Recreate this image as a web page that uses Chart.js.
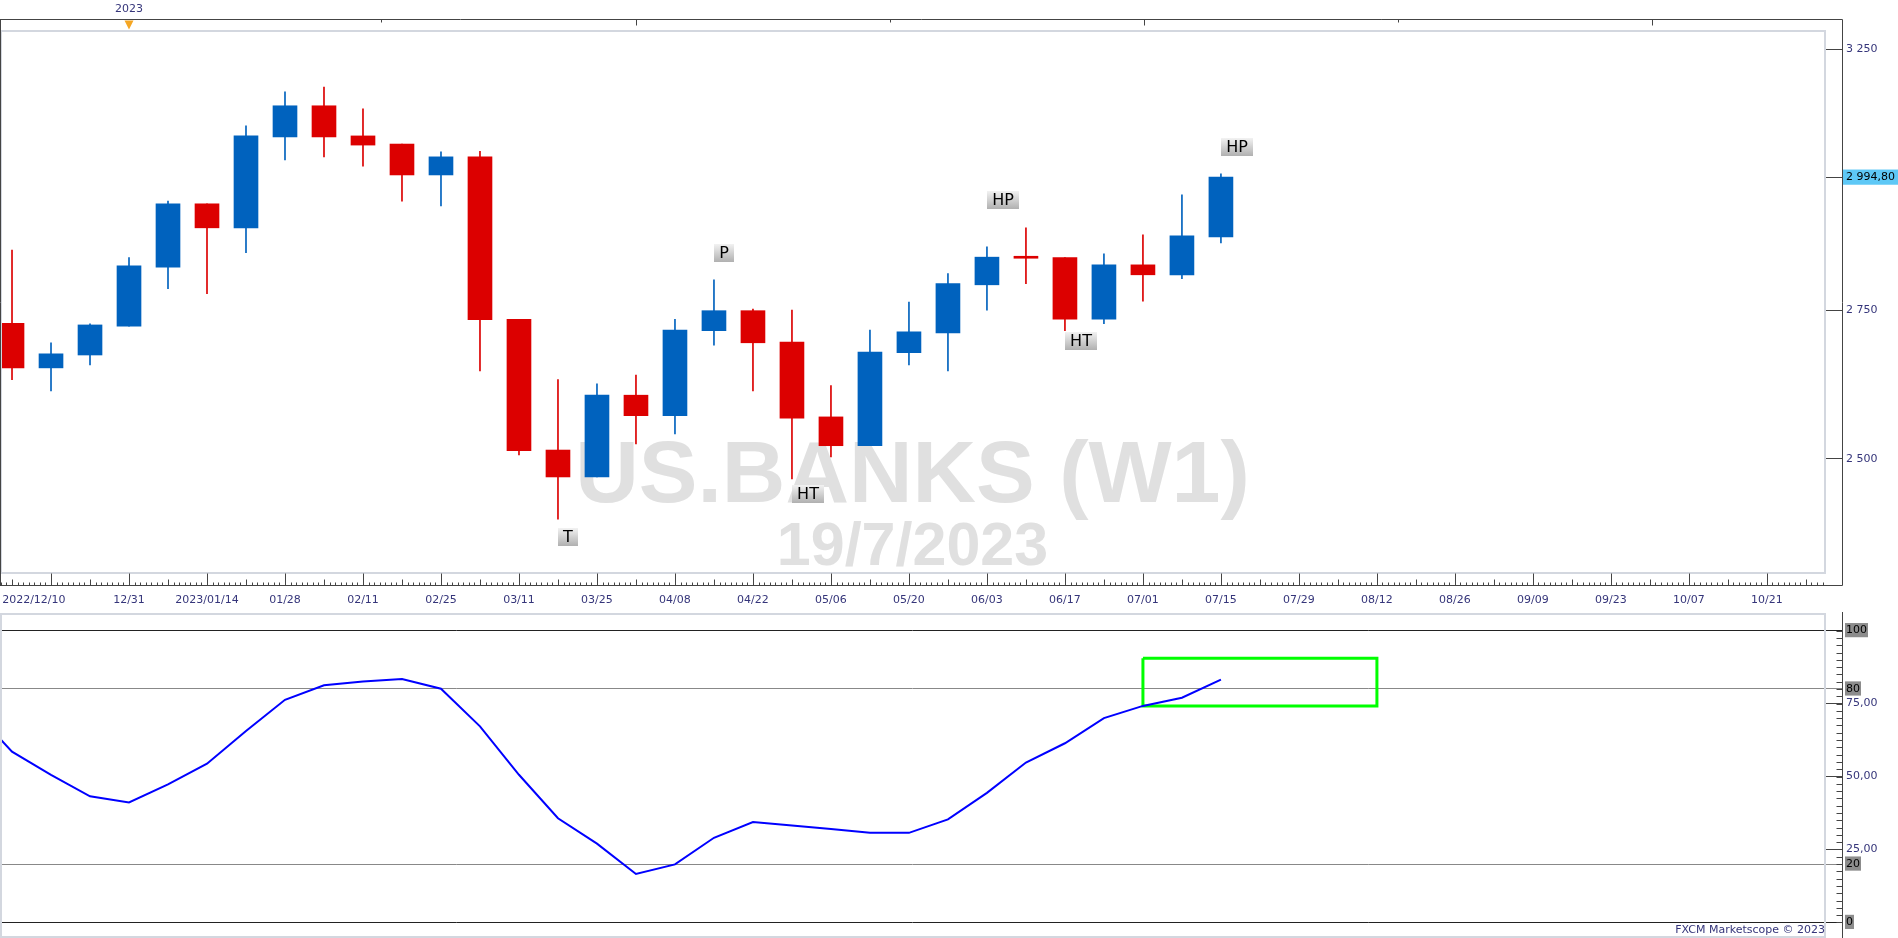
<!DOCTYPE html>
<html>
<head>
<meta charset="utf-8">
<script src="https://cdn.jsdelivr.net/npm/chart.js@4.4.0/dist/chart.umd.min.js"></script>
<style>
  body { margin: 0; background: #fff; width: 1898px; height: 938px; overflow: hidden; position: relative; }
  #pricebox { position: absolute; left: 0; top: 0; width: 1898px; height: 612px; }
  #oscbox { position: absolute; left: 0; top: 612px; width: 1898px; height: 326px; }
  #credit { position: absolute; right: 73px; top: 923px; font: 11px 'DejaVu Sans', sans-serif; line-height: 13px; color: #35357a; }
</style>
</head>
<body>
<div id="pricebox"><canvas id="price"></canvas></div>
<div id="oscbox"><canvas id="osc"></canvas></div>
<div id="credit">FXCM Marketscope © 2023</div>
<script>
// week 0 = 2022/12/03, one step per week. candles start on week 1 (2022/12/10)
var open  = [2727, 2650, 2672, 2722, 2827, 2944, 2899, 3073, 3135, 3075, 3059, 2999, 3034, 2734, 2514, 2471,
             2604, 2570, 2714, 2749, 2694, 2568, 2521, 2676, 2710, 2795, 2846, 2844, 2734, 2831, 2813, 2882];
var high  = [2858, 2693, 2726, 2844, 2949, 2944, 3095, 3163, 3173, 3129, 3059, 3044, 3045, 2734, 2630, 2623,
             2638, 2734, 2804, 2752, 2750, 2620, 2715, 2764, 2815, 2864, 2899, 2844, 2851, 2886, 2961, 3001];
var low   = [2630, 2611, 2655, 2722, 2788, 2779, 2853, 3028, 3034, 3016, 2949, 2940, 2645, 2506, 2405, 2471,
             2524, 2540, 2689, 2611, 2468, 2503, 2521, 2655, 2645, 2750, 2797, 2714, 2726, 2766, 2806, 2871];
var close = [2650, 2674, 2724, 2829, 2944, 2899, 3075, 3135, 3073, 3057, 2999, 3034, 2733, 2513, 2471, 2604,
             2570, 2715, 2749, 2693, 2566, 2521, 2677, 2712, 2797, 2845, 2843, 2734, 2831, 2813, 2884, 2994.80];
var lastPrice = 2994.80;

// oscillator, from week 0
var osc = [73, 58.5, 50.6, 43.2, 41.1, 47.3, 54.4, 65.6, 76.3, 81.3, 82.6, 83.4, 80.1, 67.2, 50.6, 35.7, 27.0,
           16.6, 19.9, 29.0, 34.4, 33.2, 32.0, 30.7, 30.7, 35.3, 44.4, 54.8, 61.4, 70.0, 74.2, 77.0, 83.2];

var xLabels = ['2022/12/10', '12/31', '2023/01/14', '01/28', '02/11', '02/25', '03/11', '03/25', '04/08', '04/22',
               '05/06', '05/20', '06/03', '06/17', '07/01', '07/15', '07/29', '08/12', '08/26', '09/09', '09/23',
               '10/07', '10/21'];
// first label is pushed inside the pane like marketscope does
var xLabelWeeks = [1.56, 4, 6, 8, 10, 12, 14, 16, 18, 20, 22, 24, 26, 28, 30, 32, 34, 36, 38, 40, 42, 44, 46];
var yearWeek = 4;
var topTickWeeks = [10.46, 17, 23.51, 30.03, 36.54, 43.05];

var priceTicks = [2500, 2750, 3250];
var oscLevels = [0, 20, 80, 100];
var oscTicks = [25, 50, 75];

// pivot labels: week, text, price at the box edge, below/above
var marks = [
  { w: 15, t: 'T',  p: 2392, below: true },
  { w: 19, t: 'P',  p: 2836, below: false },
  { w: 21, t: 'HT', p: 2458, below: true },
  { w: 26, t: 'HP', p: 2934, below: false },
  { w: 28, t: 'HT', p: 2711, below: true },
  { w: 32, t: 'HP', p: 3036, below: false }
];
// green box on the oscillator: weeks from/to, value from/to
var boxWeeks = [30, 36];
var boxVals = [74.2, 90.5];

var xMin = 0.692, xMax = 47.49;
var red = '#dc0000', blue = '#0062be', navy = '#35357a';
Chart.defaults.font.family = "'DejaVu Sans', sans-serif";
Chart.defaults.font.size = 11;

function fmt(v, dec) {
  var s = v.toFixed(dec).split('.');
  var n = s[0].replace(/\B(?=(\d{3})+(?!\d))/g, ' ');
  return dec ? n + ',' + s[1] : n;
}
// no automatic padding: the plot has to fill the pane edge to edge
function noPad(s) {
  s.paddingLeft = 0; s.paddingRight = 0; s.paddingTop = 0; s.paddingBottom = 0;
}

var bodies = open.map(function (o, i) { return { x: i + 1, y: [o, close[i]] }; });
var wicks = low.map(function (l, i) { return { x: i + 1, y: [l, high[i]] }; });
var colors = open.map(function (o, i) { return close[i] >= o ? blue : red; });

var watermark = {
  id: 'watermark',
  beforeDatasetsDraw: function (chart) {
    var a = chart.chartArea, c = chart.ctx;
    var cx = (a.left + a.right) / 2;
    c.save();
    c.fillStyle = '#e0e0e0';
    c.textAlign = 'center';
    c.font = "bold 88px 'Liberation Sans', Arial, sans-serif";
    c.fillText('US.BANKS (W1)', cx, a.bottom - 71);
    c.font = "bold 61px 'Liberation Sans', Arial, sans-serif";
    c.fillText('19/7/2023', cx, a.bottom - 8);
    c.restore();
  }
};

var markLabels = {
  id: 'markLabels',
  afterDatasetsDraw: function (chart) {
    var c = chart.ctx, xs = chart.scales.x, ys = chart.scales.y;
    c.save();
    c.font = "16px 'DejaVu Sans', sans-serif";
    marks.forEach(function (m) {
      var x = Math.round(xs.getPixelForValue(m.w));
      var y = Math.round(ys.getPixelForValue(m.p));
      var w = Math.round(c.measureText(m.t).width) + 10, h = 18;
      var top = m.below ? y : y - h;
      var g = c.createLinearGradient(0, top, 0, top + h);
      g.addColorStop(0, '#f2f2f2');
      g.addColorStop(1, '#b0b0b0');
      c.fillStyle = g;
      c.fillRect(x, top, w, h);
      c.fillStyle = '#000';
      c.textAlign = 'center';
      c.textBaseline = 'middle';
      c.fillText(m.t, x + w / 2, top + h / 2 + 1);
    });
    c.restore();
  }
};

var priceFrame = {
  id: 'priceFrame',
  afterDraw: function (chart) {
    var a = chart.chartArea, c = chart.ctx, xs = chart.scales.x;
    var axisX = a.right + 17.5, topY = 19.5, baseY = a.bottom + 12.5;
    c.save();
    // inner box
    c.strokeStyle = '#d3d7df';
    c.lineWidth = 2;
    c.strokeRect(a.left + 1, a.top, a.right - a.left - 1, a.bottom - a.top);
    // outer frame and axis line
    c.strokeStyle = '#444';
    c.lineWidth = 1;
    c.beginPath();
    c.moveTo(0, topY); c.lineTo(axisX, topY);
    c.moveTo(0.5, topY); c.lineTo(0.5, baseY);
    c.moveTo(axisX, topY); c.lineTo(axisX, baseY);
    c.moveTo(0, baseY); c.lineTo(axisX, baseY);
    // ruler: a tick every day, longer on weeks, longest every two weeks
    for (var d = Math.ceil(xMin * 7); d <= xMax * 7; d++) {
      var x = Math.round(xs.getPixelForValue(d / 7)) + 0.5;
      var len = 3;
      if (d % 7 === 0) len = (d / 7) % 2 === 0 ? 12 : 6;
      c.moveTo(x, baseY); c.lineTo(x, baseY - len);
    }
    topTickWeeks.forEach(function (w, k) {
      var x = Math.round(xs.getPixelForValue(w)) + 0.5;
      c.moveTo(x, topY); c.lineTo(x, topY + (k % 2 ? 6 : 3));
    });
    c.stroke();
    // year marker
    var yx = xs.getPixelForValue(yearWeek);
    c.fillStyle = '#f5a623';
    c.beginPath();
    c.moveTo(yx - 4.5, topY + 1); c.lineTo(yx + 4.5, topY + 1); c.lineTo(yx, topY + 10);
    c.closePath();
    c.fill();
    c.restore();
  }
};

new Chart(document.getElementById('price'), {
  type: 'bar',
  data: {
    datasets: [
      { data: bodies, backgroundColor: colors, barThickness: 24, minBarLength: 2, grouped: false, borderWidth: 0, order: 0 },
      { data: wicks, backgroundColor: colors, barThickness: 1, grouped: false, borderWidth: 0, order: 1 }
    ]
  },
  options: {
    animation: false,
    events: [],
    responsive: true,
    maintainAspectRatio: false,
    layout: { padding: 0 },
    plugins: { legend: { display: false }, tooltip: { enabled: false } },
    scales: {
      x: {
        type: 'linear', min: xMin, max: xMax, offset: false,
        afterBuildTicks: function (s) { s.ticks = xLabelWeeks.map(function (v) { return { value: v }; }); },
        afterFit: function (s) { s.height = 39; noPad(s); },
        grid: { display: false },
        border: { display: false },
        ticks: {
          autoSkip: false, maxRotation: 0, padding: 13, color: navy,
          callback: function (v, i) { return xLabels[i]; }
        }
      },
      top: {
        type: 'linear', position: 'top', min: xMin, max: xMax, offset: false,
        afterBuildTicks: function (s) { s.ticks = [{ value: yearWeek }]; },
        afterFit: function (s) { s.height = 31; noPad(s); },
        grid: { display: false },
        border: { display: false },
        ticks: { autoSkip: false, maxRotation: 0, padding: 7, color: navy, callback: function () { return '2023'; } }
      },
      y: {
        type: 'logarithmic', position: 'right', min: 2323.4, max: 3289,
        afterBuildTicks: function (s) {
          s.ticks = priceTicks.concat([lastPrice]).map(function (v) { return { value: v }; });
        },
        afterFit: function (s) { s.width = 73; noPad(s); },
        grid: { drawOnChartArea: false, drawTicks: true, tickLength: 17, tickColor: '#444' },
        border: { display: false },
        ticks: {
          autoSkip: false, padding: 4,
          color: function (ctx) { return ctx.tick.value === lastPrice ? '#000' : navy; },
          showLabelBackdrop: function (ctx) { return ctx.tick.value === lastPrice; },
          backdropColor: '#5ec8f6',
          backdropPadding: { left: 3, right: 6, top: 1, bottom: 1 },
          callback: function (v) { return v === lastPrice ? fmt(v, 2) : fmt(v, 0); }
        }
      }
    }
  },
  plugins: [watermark, markLabels, priceFrame]
});

var oscFrame = {
  id: 'oscFrame',
  afterDraw: function (chart) {
    var a = chart.chartArea, c = chart.ctx, ys = chart.scales.y;
    var axisX = a.right + 17.5;
    c.save();
    c.strokeStyle = '#d3d7df';
    c.lineWidth = 2;
    c.strokeRect(a.left + 1, a.top, a.right - a.left - 1, a.bottom - a.top);
    c.strokeStyle = '#444';
    c.lineWidth = 1;
    c.beginPath();
    c.moveTo(axisX, 0); c.lineTo(axisX, chart.height);
    for (var v = 0; v <= 100; v += 2.5) {
      var y = Math.round(ys.getPixelForValue(v)) + 0.5;
      c.moveTo(axisX - 6, y); c.lineTo(axisX, y);
    }
    c.stroke();
    c.restore();
  }
};

function oscColor(v, minor) {
  if (v === 0 || v === 100) return '#222';
  if (v === 20 || v === 80) return '#888';
  if (minor && oscTicks.indexOf(v) >= 0) return '#444';
  return 'rgba(0,0,0,0)';
}

new Chart(document.getElementById('osc'), {
  type: 'line',
  data: {
    datasets: [
      {
        data: osc.map(function (v, i) { return { x: i, y: v }; }),
        borderColor: '#0000ff', borderWidth: 2, pointRadius: 0, tension: 0
      },
      {
        data: [
          { x: boxWeeks[0], y: boxVals[1] }, { x: boxWeeks[1], y: boxVals[1] },
          { x: boxWeeks[1], y: boxVals[0] }, { x: boxWeeks[0], y: boxVals[0] },
          { x: boxWeeks[0], y: boxVals[1] }
        ],
        borderColor: '#00ff00', borderWidth: 3, pointRadius: 0, tension: 0
      }
    ]
  },
  options: {
    animation: false,
    events: [],
    responsive: true,
    maintainAspectRatio: false,
    layout: { padding: { top: 2, bottom: 1, left: 0, right: 0 } },
    plugins: { legend: { display: false }, tooltip: { enabled: false } },
    scales: {
      x: { type: 'linear', min: xMin, max: xMax, display: false },
      y: {
        position: 'right', min: -5, max: 105.7,
        afterBuildTicks: function (s) {
          var t = [];
          for (var v = 0; v <= 100; v += 2.5) t.push({ value: v });
          s.ticks = t;
        },
        afterFit: function (s) { s.width = 73; noPad(s); },
        grid: {
          drawTicks: true, tickLength: 17, lineWidth: 1,
          color: function (ctx) { return oscColor(ctx.tick.value, false); },
          tickColor: function (ctx) { return oscColor(ctx.tick.value, true); }
        },
        border: { display: false },
        ticks: {
          autoSkip: false, padding: 4,
          color: function (ctx) { return oscLevels.indexOf(ctx.tick.value) >= 0 ? '#000' : navy; },
          showLabelBackdrop: function (ctx) { return oscLevels.indexOf(ctx.tick.value) >= 0; },
          backdropColor: '#8c8c8c',
          backdropPadding: { left: 1, right: 1, top: 1, bottom: 0 },
          callback: function (v) {
            if (oscLevels.indexOf(v) >= 0) return String(v);
            if (oscTicks.indexOf(v) >= 0) return fmt(v, 2);
            return '';
          }
        }
      }
    }
  },
  plugins: [oscFrame]
});
</script>
</body>
</html>
